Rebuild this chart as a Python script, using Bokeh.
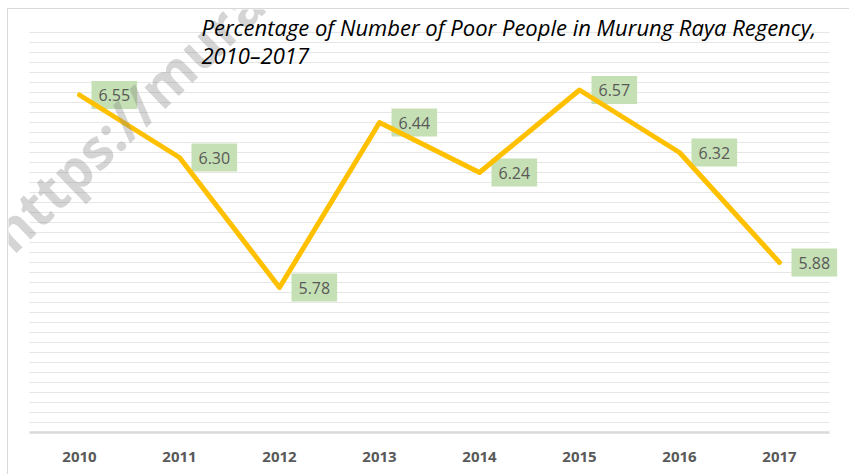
from bokeh.plotting import figure
from bokeh.models import (ColumnDataSource, Label, SingleIntervalTicker,
                          FactorRange, Range1d)
from bokeh.core.properties import value
from bokeh.embed import file_html
from bokeh.resources import INLINE

# ---- data ----
years = ["2010", "2011", "2012", "2013", "2014", "2015", "2016", "2017"]
poverty_pct = [6.55, 6.30, 5.78, 6.44, 6.24, 6.57, 6.32, 5.88]
value_labels = [f"{v:.2f}" for v in poverty_pct]
title_line1 = "Percentage of Number of Poor People in Murung Raya Regency,"
title_line2 = "2010\u20132017"
watermark = "https://mura"

y_min, y_max, grid_top = 5.2, 6.892, 6.8
n_cat = len(years)

source = ColumnDataSource(dict(year=years, pct=poverty_pct, label=value_labels))

p = figure(width=842, height=466,
           x_range=FactorRange(*years, range_padding=0.21,
                               range_padding_units="absolute"),
           y_range=Range1d(y_min, y_max),
           output_backend="svg", toolbar_location=None,
           min_border_left=0, min_border_right=0,
           min_border_top=0, min_border_bottom=43)

p.background_fill_color = "white"
p.border_fill_color = "white"
p.outline_line_color = None

p.yaxis.visible = False
p.xgrid.visible = False
p.ygrid.ticker = SingleIntervalTicker(interval=0.04, num_minor_ticks=0)
p.ygrid.bounds = (y_min - 0.01, grid_top + 0.01)
p.ygrid.cross_bounds = (0, n_cat)
p.ygrid.grid_line_color = "#e6e6e6"
p.ygrid.grid_line_width = 1

ax = p.xaxis[0]
ax.bounds = (0, n_cat)
ax.axis_line_color = "#d9d9d9"
ax.axis_line_width = 2.5
ax.major_tick_line_color = None
ax.minor_tick_line_color = None
ax.major_label_text_font = "Open Sans"
ax.major_label_text_font_style = "bold"
ax.major_label_text_font_size = "15px"
ax.major_label_text_color = "#595959"
ax.major_label_standoff = 13

p.text(x="year", y="pct", text="label", source=source,
       x_offset=12, y_offset=0,
       text_align="left", text_baseline="middle",
       text_font=value("Open Sans"), text_font_size=value("16px"),
       text_color="#595959",
       background_fill_color="#c5e0b4", padding=(7, 8))

p.line(x="year", y="pct", source=source, line_color="#FFC000", line_width=5,
       line_join="round", line_cap="round")

wm = Label(x=16, y=165, x_units="screen", y_units="screen", text=watermark,
           angle=44, angle_units="deg", text_font="Open Sans",
           text_font_style="bold", text_font_size="55px",
           text_color="#808080", text_alpha=0.33)
p.add_layout(wm)

t1 = Label(x=193, y=406, x_units="screen", y_units="screen", text=title_line1,
           text_font="Open Sans", text_font_style="italic", text_font_size="22px",
           text_color="black", text_baseline="middle")
t2 = Label(x=193, y=378, x_units="screen", y_units="screen", text=title_line2,
           text_font="Open Sans", text_font_style="italic", text_font_size="22px",
           text_color="black", text_baseline="middle")
p.add_layout(t1)
p.add_layout(t2)

p.styles = {"margin-left": "7px", "margin-top": "8px",
            "border-left": "1px solid #d9d9d9", "border-top": "1px solid #d9d9d9"}

open("out.html", "w").write(file_html(p, INLINE))
